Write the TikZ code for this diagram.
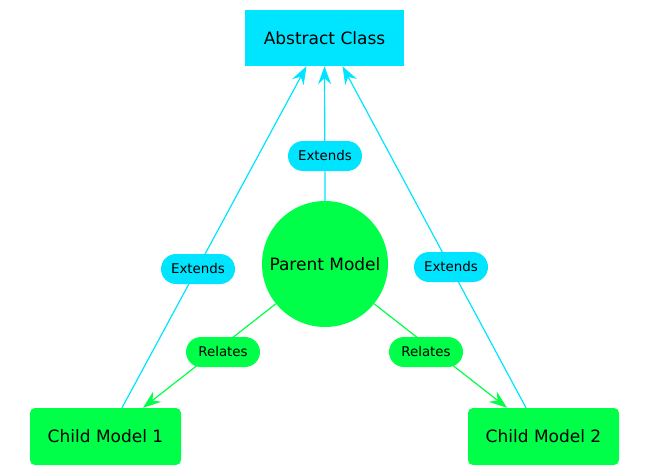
\documentclass[tikz,border=0pt]{standalone}
\usepackage{fontspec}
\setmainfont{DejaVu Sans}
\usetikzlibrary{arrows.meta}
\definecolor{cy}{HTML}{00E5FF}
\definecolor{gr}{HTML}{00FF48}
\begin{document}
\begin{tikzpicture}[x=1pt,y=-1pt,
  big/.style={font=\fontsize{17}{20}\selectfont, text=black, inner sep=0pt},
  absbox/.style={big, fill=cy, minimum width=159pt, minimum height=56pt},
  childbox/.style={big, fill=gr, rounded corners=5pt, minimum width=151pt, minimum height=57pt},
  parentc/.style={big, circle, fill=gr, minimum size=126pt},
  lbl/.style={font=\fontsize{13.4}{16}\selectfont, text=black, rounded corners=15pt, minimum width=74pt, minimum height=30pt, inner sep=0pt},
  extlbl/.style={lbl, fill=cy},
  rellbl/.style={lbl, fill=gr},
  tip/.style={-{Stealth[length=18pt,width=13pt,inset=6pt]}},
  cyline/.style={tip, draw=cy, line width=1.2pt},
  grline/.style={tip, draw=gr, line width=1.2pt}]
\useasboundingbox (0,0) rectangle (650,476);
\node[absbox] (abs) at (324.5,38) {Abstract Class};
\node[parentc] (par) at (325,264) {Parent Model};
\node[childbox] (c1) at (105.5,436.5) {Child Model 1};
\node[childbox] (c2) at (543.5,436.5) {Child Model 2};
\draw[cyline] ([xshift=16.5pt]c1.north) -- ([xshift=-18pt]abs.south);
\draw[cyline] (par.north) -- (abs.south);
\draw[cyline] ([xshift=-17.5pt]c2.north) -- ([xshift=18pt]abs.south);
\draw[grline] (par.{219}) -- ([xshift=37.5pt]c1.north);
\draw[grline] (par.{-39}) -- ([xshift=-36.5pt]c2.north);
\node[extlbl] (e1) at (198,269) {Extends};
\node[extlbl] (e0) at (325,156) {Extends};
\node[extlbl] (e2) at (451,267) {Extends};
\node[rellbl] (r1) at (223,352) {Relates};
\node[rellbl] (r2) at (426,352) {Relates};
\end{tikzpicture}
\end{document}
